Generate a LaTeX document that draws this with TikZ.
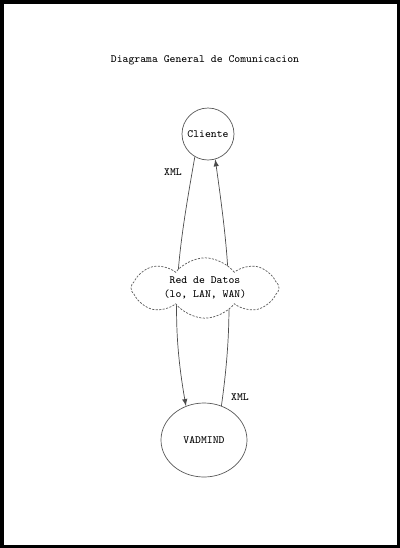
\documentclass[tikz,border=0pt]{standalone}
\usetikzlibrary{arrows,shapes,shapes.symbols,backgrounds,positioning}

\begin{document}
\begin{tikzpicture}
        \tikzstyle{main}=[circle, minimum size = 10.4mm, inner sep=0pt, draw = black!65, line width=0.4pt]
        \tikzstyle{main1}=[ellipse, minimum width = 17.2mm, minimum height = 14.8mm, inner sep=0pt, draw = black!65, line width=0.4pt]
        \tikzstyle{net}=[cloud, cloud puffs = 8, cloud puff arc = 105, aspect = 2.8, minimum width = 29.6mm, minimum height = 10.4mm, inner sep=0pt, draw = black!65, line width=0.4pt, dash pattern = on 1.2pt off 0.8pt, fill = white, align = center]
        \tikzstyle{connect}=[-latex, line width=0.4pt, draw = black!70]
        \tikzstyle{lbl}=[inner sep=0pt]
        \tikzstyle{every node}=[font=\ttfamily\fontsize{6.3}{7.6}\selectfont]
        \useasboundingbox (0,0) rectangle (8,-10.96);
        \draw[line width=0.07cm] (0.035,-0.035) rectangle (7.965,-10.925);
        \node[lbl] (title) at (4.1,-1.2) {Diagrama General de Comunicacion};
        \node[main] (cliente) at (4.16,-2.68) {Cliente};
        \node[main1] (vadmind) at (4.08,-8.8) {VADMIND};
        \node[net] (red) at (4.1,-5.76) {Red de Datos\\(lo, LAN, WAN)};
        \node[lbl] (xml1) at (3.46,-3.44) {XML};
        \node[lbl] (xml2) at (4.8,-7.94) {XML};
        \begin{pgfonlayer}{background}
        \path (cliente.-120) edge [connect, out=-100, in=100] (vadmind.118)
        (vadmind.63) edge [connect, out=82, in=-82] (cliente.-74);
        \end{pgfonlayer}
      \end{tikzpicture}
\end{document}
